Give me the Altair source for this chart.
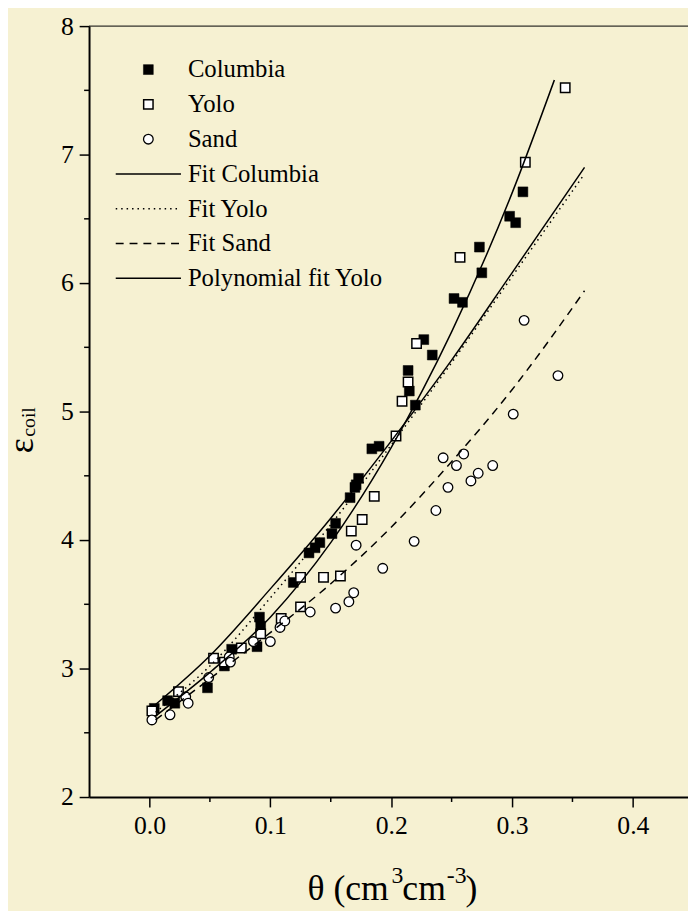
import altair as alt
import pandas as pd

# ---------------- data ----------------
col_theta = [0.004, 0.015, 0.021, 0.048, 0.062, 0.068, 0.089, 0.091, 0.092, 0.119,
             0.132, 0.137, 0.141, 0.151, 0.154, 0.166, 0.170, 0.171, 0.173, 0.184,
             0.190, 0.214, 0.215, 0.220, 0.227, 0.234, 0.252, 0.259, 0.273, 0.275,
             0.298, 0.303, 0.309]
col_eps = [2.69, 2.75, 2.73, 2.85, 3.02, 3.15, 3.17, 3.40, 3.33, 3.67,
           3.90, 3.94, 3.98, 4.05, 4.13, 4.33, 4.41, 4.43, 4.48, 4.71,
           4.73, 5.32, 5.16, 5.05, 5.56, 5.44, 5.88, 5.85, 6.28, 6.08,
           6.52, 6.47, 6.71]

yolo_theta = [0.002, 0.024, 0.053, 0.062, 0.076, 0.092, 0.109, 0.125, 0.125, 0.144,
              0.158, 0.167, 0.176, 0.186, 0.204, 0.209, 0.214, 0.221, 0.257, 0.311, 0.344]
yolo_eps = [2.67, 2.82, 3.08, 3.05, 3.16, 3.27, 3.39, 3.48, 3.71, 3.71,
            3.72, 4.07, 4.16, 4.34, 4.81, 5.08, 5.23, 5.53, 6.20, 6.94, 7.52]

sand_theta = [0.002, 0.017, 0.030, 0.032, 0.049, 0.066, 0.067, 0.086, 0.100, 0.108,
              0.112, 0.133, 0.154, 0.165, 0.169, 0.171, 0.193, 0.219, 0.237, 0.243,
              0.247, 0.254, 0.260, 0.266, 0.272, 0.284, 0.301, 0.310, 0.338]
sand_eps = [2.60, 2.64, 2.78, 2.73, 2.93, 3.09, 3.05, 3.21, 3.21, 3.32,
            3.37, 3.44, 3.47, 3.52, 3.59, 3.96, 3.78, 3.99, 4.23, 4.64,
            4.41, 4.58, 4.67, 4.46, 4.52, 4.58, 4.98, 5.71, 5.28]

fitc_theta = [0.005, 0.05, 0.10, 0.15, 0.20, 0.25, 0.30, 0.335]
fitc_eps = [2.63, 2.97, 3.40, 3.98, 4.72, 5.62, 6.70, 7.58]

fity_theta = [0.005, 0.05, 0.10, 0.15, 0.20, 0.25, 0.30, 0.36]
fity_eps = [2.66, 3.02, 3.55, 4.12, 4.74, 5.38, 6.05, 6.85]

poly_theta = [0.005, 0.05, 0.10, 0.15, 0.20, 0.25, 0.30, 0.36]
poly_eps = [2.72, 3.10, 3.62, 4.17, 4.77, 5.40, 6.08, 6.90]

fits_theta = [0.005, 0.05, 0.10, 0.15, 0.20, 0.25, 0.30, 0.36]
fits_eps = [2.60, 2.92, 3.28, 3.66, 4.10, 4.61, 5.17, 5.94]

x_ticks = [0.0, 0.1, 0.2, 0.3, 0.4]
x_minor = [0.05, 0.15, 0.25, 0.35]
y_ticks = [2, 3, 4, 5, 6, 7, 8]
y_minor = [2.5, 3.5, 4.5, 5.5, 6.5, 7.5]

legend_labels = ["Columbia", "Yolo", "Sand", "Fit Columbia", "Fit Yolo",
                 "Fit Sand", "Polynomial fit Yolo"]

# ---------------- styling ----------------
BG = "#F6F1D2"
FONT = "Times New Roman, Liberation Serif, serif"
W, H = 606, 780
xs = alt.Scale(domain=[-0.05, 0.4456], nice=False, zero=False)
ys = alt.Scale(domain=[2, 8], nice=False, zero=False)

xaxis = alt.Axis(values=x_ticks, format=".1f", tickSize=10, tickWidth=1.5,
                 domainWidth=2, labelPadding=6, grid=False, title=None,
                 labelFont=FONT, labelFontSize=26, labelColor="black",
                 domainColor="black", tickColor="black")
yaxis = alt.Axis(values=y_ticks, format="d", tickSize=10, tickWidth=1.5,
                 domainWidth=2, labelPadding=6, grid=False, title=None,
                 labelFont=FONT, labelFontSize=26, labelColor="black",
                 domainColor="black", tickColor="black")


def xy_df(t, e):
    return pd.DataFrame({"theta": t, "eps": e})


X = alt.X("theta:Q", scale=xs, axis=xaxis)
Y = alt.Y("eps:Q", scale=ys, axis=yaxis)

pts_col = alt.Chart(xy_df(col_theta, col_eps)).mark_point(
    shape="square", filled=True, fill="black", stroke="black", strokeWidth=0.5,
    size=100, opacity=1).encode(x=X, y=Y)
pts_yolo = alt.Chart(xy_df(yolo_theta, yolo_eps)).mark_point(
    shape="square", filled=True, fill="white", stroke="black", strokeWidth=1.5,
    size=90, opacity=1).encode(x=X, y=Y)
pts_sand = alt.Chart(xy_df(sand_theta, sand_eps)).mark_point(
    shape="circle", filled=True, fill="white", stroke="black", strokeWidth=1.3,
    size=95, opacity=1).encode(x=X, y=Y)


def fit_line(t, e, dash=None):
    kw = dict(color="black", strokeWidth=1.5, interpolate="monotone", clip=True)
    if dash is not None:
        kw["strokeDash"] = dash
    return alt.Chart(xy_df(t, e)).mark_line(**kw).encode(x=X, y=Y)


ln_col = fit_line(fitc_theta, fitc_eps)
ln_yolo = fit_line(fity_theta, fity_eps, [1.5, 4])
ln_sand = fit_line(fits_theta, fits_eps, [8, 6])
ln_poly = fit_line(poly_theta, poly_eps)

# minor ticks
xminor = alt.Chart(pd.DataFrame({"theta": x_minor})).mark_rule(
    color="black", strokeWidth=1.5).encode(
    x=alt.X("theta:Q", scale=xs, axis=xaxis), y=alt.value(H), y2=alt.value(H + 5))
yminor = alt.Chart(pd.DataFrame({"eps": y_minor})).mark_rule(
    color="black", strokeWidth=1.5).encode(
    y=alt.Y("eps:Q", scale=ys, axis=yaxis), x=alt.value(-5), x2=alt.value(0))

one = pd.DataFrame({"a": [0]})
top_border = alt.Chart(one).mark_rule(color="black", strokeWidth=1).encode(
    x=alt.value(0), x2=alt.value(W), y=alt.value(0))

# legend (pixel layout)
ROW0, DY = 44, 35.2
def row_y(i):
    return ROW0 + DY * i

leg_layers = []
leg_layers.append(alt.Chart(one).mark_point(
    shape="square", filled=True, fill="black", stroke="black", strokeWidth=0.5,
    size=100, opacity=1).encode(x=alt.value(60), y=alt.value(row_y(0))))
leg_layers.append(alt.Chart(one).mark_point(
    shape="square", filled=True, fill="white", stroke="black", strokeWidth=1.5,
    size=90, opacity=1).encode(x=alt.value(60), y=alt.value(row_y(1))))
leg_layers.append(alt.Chart(one).mark_point(
    shape="circle", filled=True, fill="white", stroke="black", strokeWidth=1.3,
    size=95, opacity=1).encode(x=alt.value(60), y=alt.value(row_y(2))))
for i, dash in [(3, None), (4, [1.5, 4]), (5, [8, 6]), (6, None)]:
    kw = dict(color="black", strokeWidth=1.5)
    if dash is not None:
        kw["strokeDash"] = dash
    leg_layers.append(alt.Chart(one).mark_rule(**kw).encode(
        x=alt.value(27), x2=alt.value(93), y=alt.value(row_y(i))))
leg_df = pd.DataFrame({"label": legend_labels,
                       "py": [row_y(i) + 8 for i in range(len(legend_labels))]})
leg_text = alt.Chart(leg_df).mark_text(
    align="left", baseline="alphabetic", font=FONT, fontSize=25,
    color="black").encode(x=alt.value(100), y=alt.Y("py:Q", scale=None),
                          text="label:N")


def txt(s, x, y, size, angle=0, align="left"):
    kw = dict(align=align, baseline="alphabetic", font=FONT, fontSize=size,
              color="black")
    if angle:
        kw["angle"] = angle
    return alt.Chart(one).mark_text(**kw).encode(
        x=alt.value(x), y=alt.value(y), text=alt.value(s))


XB = 884
titles = [
    txt("θ (cm", 221, XB, 36),
    txt("3", 306, XB - 17, 24),
    txt("cm", 317, XB, 36),
    txt("-3", 362, XB - 17, 24),
    txt(")", 381, XB, 36),
    txt("ε", -57, 424.5, 36, angle=270, align="center"),
    txt("coil", -54.5, 400.5, 20, angle=270, align="center"),
]

chart = alt.layer(
    pts_col, pts_yolo, pts_sand, ln_col, ln_yolo, ln_sand, ln_poly,
    xminor, yminor, top_border, *leg_layers, leg_text, *titles
).properties(
    width=W, height=H,
    autosize=alt.AutoSizeParams(type="none"),
    padding={"left": 82, "top": 13, "right": 0, "bottom": 110},
).configure(background=BG).configure_view(stroke=None)

chart.save("out.html", embed_options={"renderer": "svg", "actions": False})
